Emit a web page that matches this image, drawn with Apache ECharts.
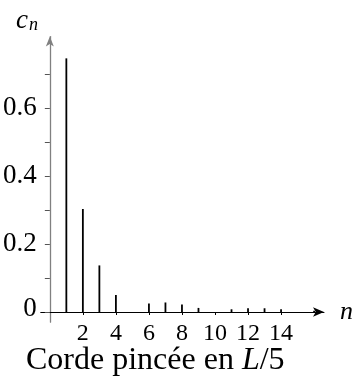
<!DOCTYPE html>
<html>
<head>
<meta charset="utf-8">
<script src="https://cdn.jsdelivr.net/npm/echarts@6/dist/echarts.min.js"></script>
<style>
  html, body { margin: 0; padding: 0; background: #fff; }
  #chart { width: 356px; height: 376px; }
</style>
</head>
<body>
<div id="chart"></div>
<script>
// harmonic number and amplitude
const harmonics = [1, 2, 3, 4, 5, 6, 7, 8, 9, 10, 11, 12, 13, 14, 15, 16];
const amplitudes = [0.746, 0.303, 0.137, 0.05, 0, 0.025, 0.028, 0.022, 0.012, 0, 0.008, 0.011, 0.011, 0.008, 0, 0.004];
const xTickLabels = [2, 4, 6, 8, 10, 12, 14];
const yTickLabels = [0, 0.2, 0.4, 0.6];
const yMinorTicks = [0, 0.1, 0.2, 0.3, 0.4, 0.5, 0.6, 0.7];

const serif = '"Liberation Serif", "DejaVu Serif", serif';

const chart = echarts.init(document.getElementById('chart'));

chart.setOption({
   animation: false,
   title: {
      left: 26,
      top: 345,
      padding: 0,
      text: '{a|Corde pincée en }{i|L}{a|/5}',
      textStyle: {
         rich: {
            a: { fontFamily: serif, fontSize: 32, fontWeight: 'normal', color: '#000' },
            i: { fontFamily: serif, fontSize: 32, fontWeight: 'normal', fontStyle: 'italic', color: '#000' }
         }
      }
   },
   graphic: [
      { type: 'text', x: 16, y: 7, style: { text: 'c', font: 'italic 27px ' + serif, fill: '#000' } },
      { type: 'text', x: 29, y: 16, style: { text: 'n', font: 'italic 18px ' + serif, fill: '#000' } }
   ],
   grid: { left: 39.5, right: 28.4, top: 36.6, bottom: 53.8 },
   xAxis: {
      type: 'value',
      min: -0.55,
      max: 16.6,
      name: 'n',
      nameLocation: 'end',
      nameGap: 16,
      nameTextStyle: { fontFamily: serif, fontSize: 26, fontStyle: 'italic', color: '#000', padding: [0, 0, 6, 0] },
      splitLine: { show: false },
      axisLine: {
         onZero: true,
         symbol: ['none', 'arrow'],
         symbolSize: [7, 11],
         lineStyle: { color: '#000', width: 1 }
      },
      axisTick: { show: true, customValues: xTickLabels, length: 3, lineStyle: { color: '#000', width: 1 } },
      axisLabel: { customValues: xTickLabels, margin: 0, fontFamily: serif, fontSize: 24, color: '#000', hideOverlap: false }
   },
   yAxis: {
      type: 'value',
      min: -0.03,
      max: 0.81,
      splitLine: { show: false },
      axisLine: {
         onZero: true,
         symbol: ['none', 'arrow'],
         symbolSize: [6, 10],
         lineStyle: { color: '#808080', width: 1.3 }
      },
      axisTick: { show: true, customValues: yMinorTicks, length: 5, lineStyle: { color: '#555', width: 1 } },
      axisLabel: {
         customValues: yTickLabels,
         margin: 4,
         fontFamily: serif,
         fontSize: 27,
         color: '#000',
         formatter: v => v === 0 ? '{z|0}' : String(v),
         rich: { z: { fontFamily: serif, fontSize: 27, color: '#000', padding: [0, 0, 6, 0] } }
      }
   },
   series: [{
      type: 'custom',
      data: harmonics.map((n, i) => [n, amplitudes[i]]),
      renderItem: (params, api) => {
         const base = api.coord([api.value(0), 0]);
         const top = api.coord([api.value(0), api.value(1)]);
         return {
            type: 'line',
            shape: { x1: base[0], y1: base[1], x2: top[0], y2: top[1] },
            style: { stroke: '#000', lineWidth: 1.8 }
         };
      }
   }]
});
</script>
</body>
</html>
